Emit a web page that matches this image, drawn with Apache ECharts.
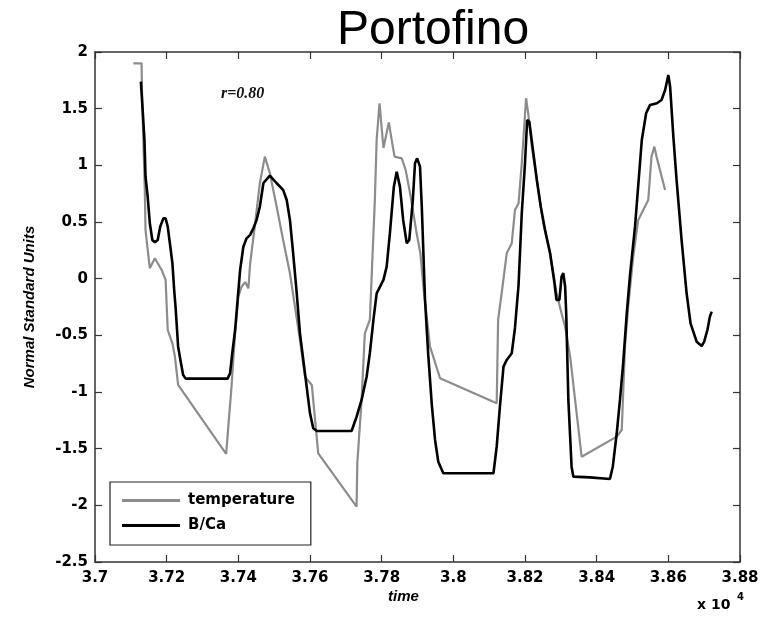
<!DOCTYPE html>
<html>
<head>
<meta charset="utf-8">
<script src="https://cdn.jsdelivr.net/npm/echarts@6/dist/echarts.min.js"></script>
<style>
  html, body { margin: 0; padding: 0; background: #fff; }
  #chart { width: 769px; height: 619px; }
</style>
</head>
<body>
<div id="chart"></div>
<script>
// Time axis (x 10^4) and normalised series values
const xTicks = [3.7, 3.72, 3.74, 3.76, 3.78, 3.8, 3.82, 3.84, 3.86, 3.88];
const yTicks = [-2.5, -2, -1.5, -1, -0.5, 0, 0.5, 1, 1.5, 2];

const tempTime = [
  3.7107, 3.7130, 3.7131, 3.7135, 3.7139, 3.7141, 3.7147, 3.7153, 3.7167, 3.7186,
  3.7197, 3.7203, 3.7216, 3.7223, 3.7232, 3.7366, 3.7372, 3.7381, 3.7391, 3.7400,
  3.7409, 3.7419, 3.7428, 3.7433, 3.7447, 3.7460, 3.7474, 3.7488, 3.7507, 3.7525,
  3.7544, 3.7558, 3.7572, 3.7586, 3.7605, 3.7623, 3.7730, 3.7732, 3.7744, 3.7753,
  3.7767, 3.7781, 3.7786, 3.7794, 3.7805, 3.7820, 3.7828, 3.7836, 3.7856, 3.7867,
  3.7881, 3.7896, 3.7908, 3.7916, 3.7935, 3.7963, 3.8121, 3.8125, 3.8136, 3.8149,
  3.8163, 3.8172, 3.8182, 3.8191, 3.8203, 3.8209, 3.8219, 3.8233, 3.8251, 3.8270,
  3.8288, 3.8302, 3.8312, 3.8326, 3.8358, 3.8456, 3.8470, 3.8479, 3.8488, 3.8502,
  3.8516, 3.8544, 3.8553, 3.8561, 3.8567, 3.8591
];
const tempValue = [
  1.90, 1.90, 1.66, 1.22, 0.78, 0.43, 0.253, 0.092, 0.180, 0.077,
  -0.011, -0.453, -0.570, -0.688, -0.938, -1.547, -1.306, -0.953, -0.482, -0.159,
  -0.071, -0.03, -0.085, 0.136, 0.489, 0.842, 1.077, 0.930, 0.635, 0.341,
  0.048, -0.247, -0.541, -0.865, -0.938, -1.541, -2.012, -1.629, -1.070, -0.482,
  -0.364, 0.694, 1.224, 1.548, 1.153, 1.378, 1.224, 1.077, 1.062, 0.959,
  0.724, 0.430, 0.224, -0.056, -0.600, -0.879, -1.100, -0.364, -0.1, 0.224,
  0.312, 0.606, 0.665, 1.018, 1.592, 1.459, 1.165, 0.871, 0.489, 0.224,
  -0.129, -0.305, -0.424, -0.688, -1.571, -1.394, -1.335, -0.600, -0.247, 0.194,
  0.518, 0.694, 1.077, 1.165, 1.077, 0.783
];

const bcaTime = [
  3.7128, 3.7133, 3.7138, 3.7141, 3.7147, 3.7153, 3.7160, 3.7167, 3.7175, 3.7182,
  3.7191, 3.7197, 3.7203, 3.7209, 3.7216, 3.7221, 3.7225, 3.7232, 3.7240, 3.7246,
  3.7253, 3.7370, 3.7377, 3.7383, 3.7391, 3.7398, 3.7405, 3.7414, 3.7423, 3.7433,
  3.7442, 3.7451, 3.7460, 3.7470, 3.7488, 3.7507, 3.7525, 3.7535, 3.7544, 3.7553,
  3.7563, 3.7572, 3.7586, 3.7600, 3.7609, 3.7619, 3.7716, 3.7730, 3.7744, 3.7758,
  3.7767, 3.7777, 3.7786, 3.7805, 3.7814, 3.7823, 3.7834, 3.7842, 3.7851, 3.7860,
  3.7870, 3.7877, 3.7887, 3.7893, 3.7899, 3.7907, 3.7912, 3.7921, 3.7930, 3.7940,
  3.7949, 3.7958, 3.7972, 3.8112, 3.8121, 3.8130, 3.8140, 3.8149, 3.8163, 3.8172,
  3.8182, 3.8191, 3.8200, 3.8206, 3.8212, 3.8221, 3.8233, 3.8244, 3.8256, 3.8270,
  3.8281, 3.8288, 3.8296, 3.8302, 3.8307, 3.8312, 3.8315, 3.8321, 3.8330, 3.8335,
  3.8381, 3.8386, 3.8437, 3.8445, 3.8456, 3.8465, 3.8474, 3.8484, 3.8493, 3.8507,
  3.8526, 3.8538, 3.8549, 3.8568, 3.8581, 3.8591, 3.8600, 3.8605, 3.8614, 3.8623,
  3.8637, 3.8651, 3.8662, 3.8679, 3.8693, 3.8700, 3.8709, 3.8716, 3.8721
];
const bcaValue = [
  1.738, 1.489, 1.224, 0.900, 0.724, 0.489, 0.341, 0.321, 0.341, 0.459,
  0.533, 0.533, 0.459, 0.312, 0.136, -0.100, -0.259, -0.600, -0.747, -0.850,
  -0.882, -0.882, -0.835, -0.658, -0.453, -0.188, 0.077, 0.282, 0.356, 0.386,
  0.445, 0.518, 0.635, 0.844, 0.910, 0.842, 0.783, 0.694, 0.518, 0.224,
  -0.129, -0.482, -0.835, -1.188, -1.320, -1.344, -1.344, -1.218, -1.070, -0.865,
  -0.658, -0.364, -0.129, -0.011, 0.106, 0.401, 0.812, 0.944, 0.812, 0.518,
  0.312, 0.341, 0.694, 1.018, 1.062, 0.988, 0.635, -0.188, -0.673, -1.115,
  -1.423, -1.615, -1.717, -1.717, -1.482, -1.129, -0.776, -0.717, -0.658, -0.435,
  -0.056, 0.577, 1.018, 1.400, 1.385, 1.165, 0.871, 0.635, 0.430, 0.224,
  -0.011, -0.188, -0.188, 0.018, 0.048, -0.071, -0.305, -1.070, -1.659, -1.747,
  -1.753, -1.767, -1.767, -1.659, -1.364, -1.070, -0.747, -0.305, 0.03, 0.459,
  1.224, 1.459, 1.533, 1.548, 1.577, 1.665, 1.797, 1.694, 1.253, 0.871,
  0.341, -0.129, -0.394, -0.556, -0.594, -0.556, -0.453, -0.335, -0.291
];

const seriesNames = ['temperature', 'B/Ca'];
const chartTitle = 'Portofino';
const corrText = 'r=0.80';

const pairs = (xs, ys) => xs.map((x, i) => [x, ys[i]]);
const fmt = v => String(Number(v.toFixed(2)));

const frameColor = '#333';
const boldFamily = '"DejaVu Sans", "Liberation Sans", sans-serif';
const labelFont = { color: '#000', fontFamily: boldFamily, fontWeight: 'bold', fontSize: 15 };

const chart = echarts.init(document.getElementById('chart'), null, { renderer: 'canvas' });

const xBase = {
  type: 'value', min: xTicks[0], max: xTicks[xTicks.length - 1], interval: 0.02,
  splitLine: { show: false },
  axisLine: { onZero: false, lineStyle: { color: frameColor, width: 1.5 } },
  axisTick: { inside: true, length: 7, lineStyle: { color: frameColor, width: 1.2 } }
};
const yBase = {
  type: 'value', min: yTicks[0], max: yTicks[yTicks.length - 1], interval: 0.5,
  splitLine: { show: false },
  axisLine: { show: true, onZero: false, lineStyle: { color: frameColor, width: 1.5 } },
  axisTick: { show: true, inside: true, length: 7, lineStyle: { color: frameColor, width: 1.2 } }
};

chart.setOption({
  animation: false,
  backgroundColor: '#fff',
  title: {
    text: chartTitle, left: 332, top: 2,
    textStyle: { fontFamily: 'Liberation Sans, Arial, sans-serif', fontWeight: 'normal', fontSize: 48, color: '#000' }
  },
  grid: { left: 95, right: 29, top: 52, bottom: 57 },
  xAxis: [
    Object.assign({}, xBase, {
      position: 'bottom',
      axisLabel: Object.assign({}, labelFont, { margin: 9, formatter: fmt })
    }),
    Object.assign({}, xBase, { position: 'top', axisLabel: { show: false } })
  ],
  yAxis: [
    Object.assign({}, yBase, {
      position: 'left',
      axisLabel: Object.assign({}, labelFont, { margin: 7, formatter: fmt }),
      name: 'Normal Standard Units', nameLocation: 'middle', nameGap: 58, nameRotate: 90,
      nameTextStyle: { color: '#000', fontFamily: 'Liberation Sans, Arial, sans-serif', fontWeight: 'bold', fontStyle: 'italic', fontSize: 15 }
    }),
    Object.assign({}, yBase, { position: 'right', axisLabel: { show: false } })
  ],
  legend: {
    data: seriesNames,
    orient: 'vertical', left: 110, top: 482,
    backgroundColor: '#fff', borderColor: '#222', borderWidth: 1.2, borderRadius: 0,
    padding: [11, 16, 12, 12], itemGap: 10,
    itemWidth: 58, itemHeight: 3, icon: 'rect',
    textStyle: Object.assign({}, labelFont, { padding: [0, 0, 0, 3] })
  },
  graphic: [
    {
      type: 'text', left: 221, top: 86,
      style: { text: corrText, fill: '#111', font: 'italic bold 16px "Liberation Serif", "Times New Roman", serif' }
    },
    {
      type: 'text', left: 388, top: 589,
      style: { text: 'time', fill: '#000', font: 'italic bold 15px "Liberation Sans", Arial, sans-serif' }
    },
    {
      type: 'text', left: 697, top: 598,
      style: { text: 'x 10', fill: '#000', font: 'bold 14px "DejaVu Sans", sans-serif' }
    },
    {
      type: 'text', left: 737, top: 592,
      style: { text: '4', fill: '#000', font: 'bold 10px "DejaVu Sans", sans-serif' }
    }
  ],
  series: [
    {
      name: seriesNames[0], type: 'line', xAxisIndex: 0, yAxisIndex: 0,
      data: pairs(tempTime, tempValue), showSymbol: false, symbol: 'none',
      color: '#8c8c8c', lineStyle: { color: '#8c8c8c', width: 2.2 }
    },
    {
      name: seriesNames[1], type: 'line', xAxisIndex: 0, yAxisIndex: 0,
      data: pairs(bcaTime, bcaValue), showSymbol: false, symbol: 'none',
      color: '#000', lineStyle: { color: '#000', width: 2.6 }
    }
  ]
});
</script>
</body>
</html>
